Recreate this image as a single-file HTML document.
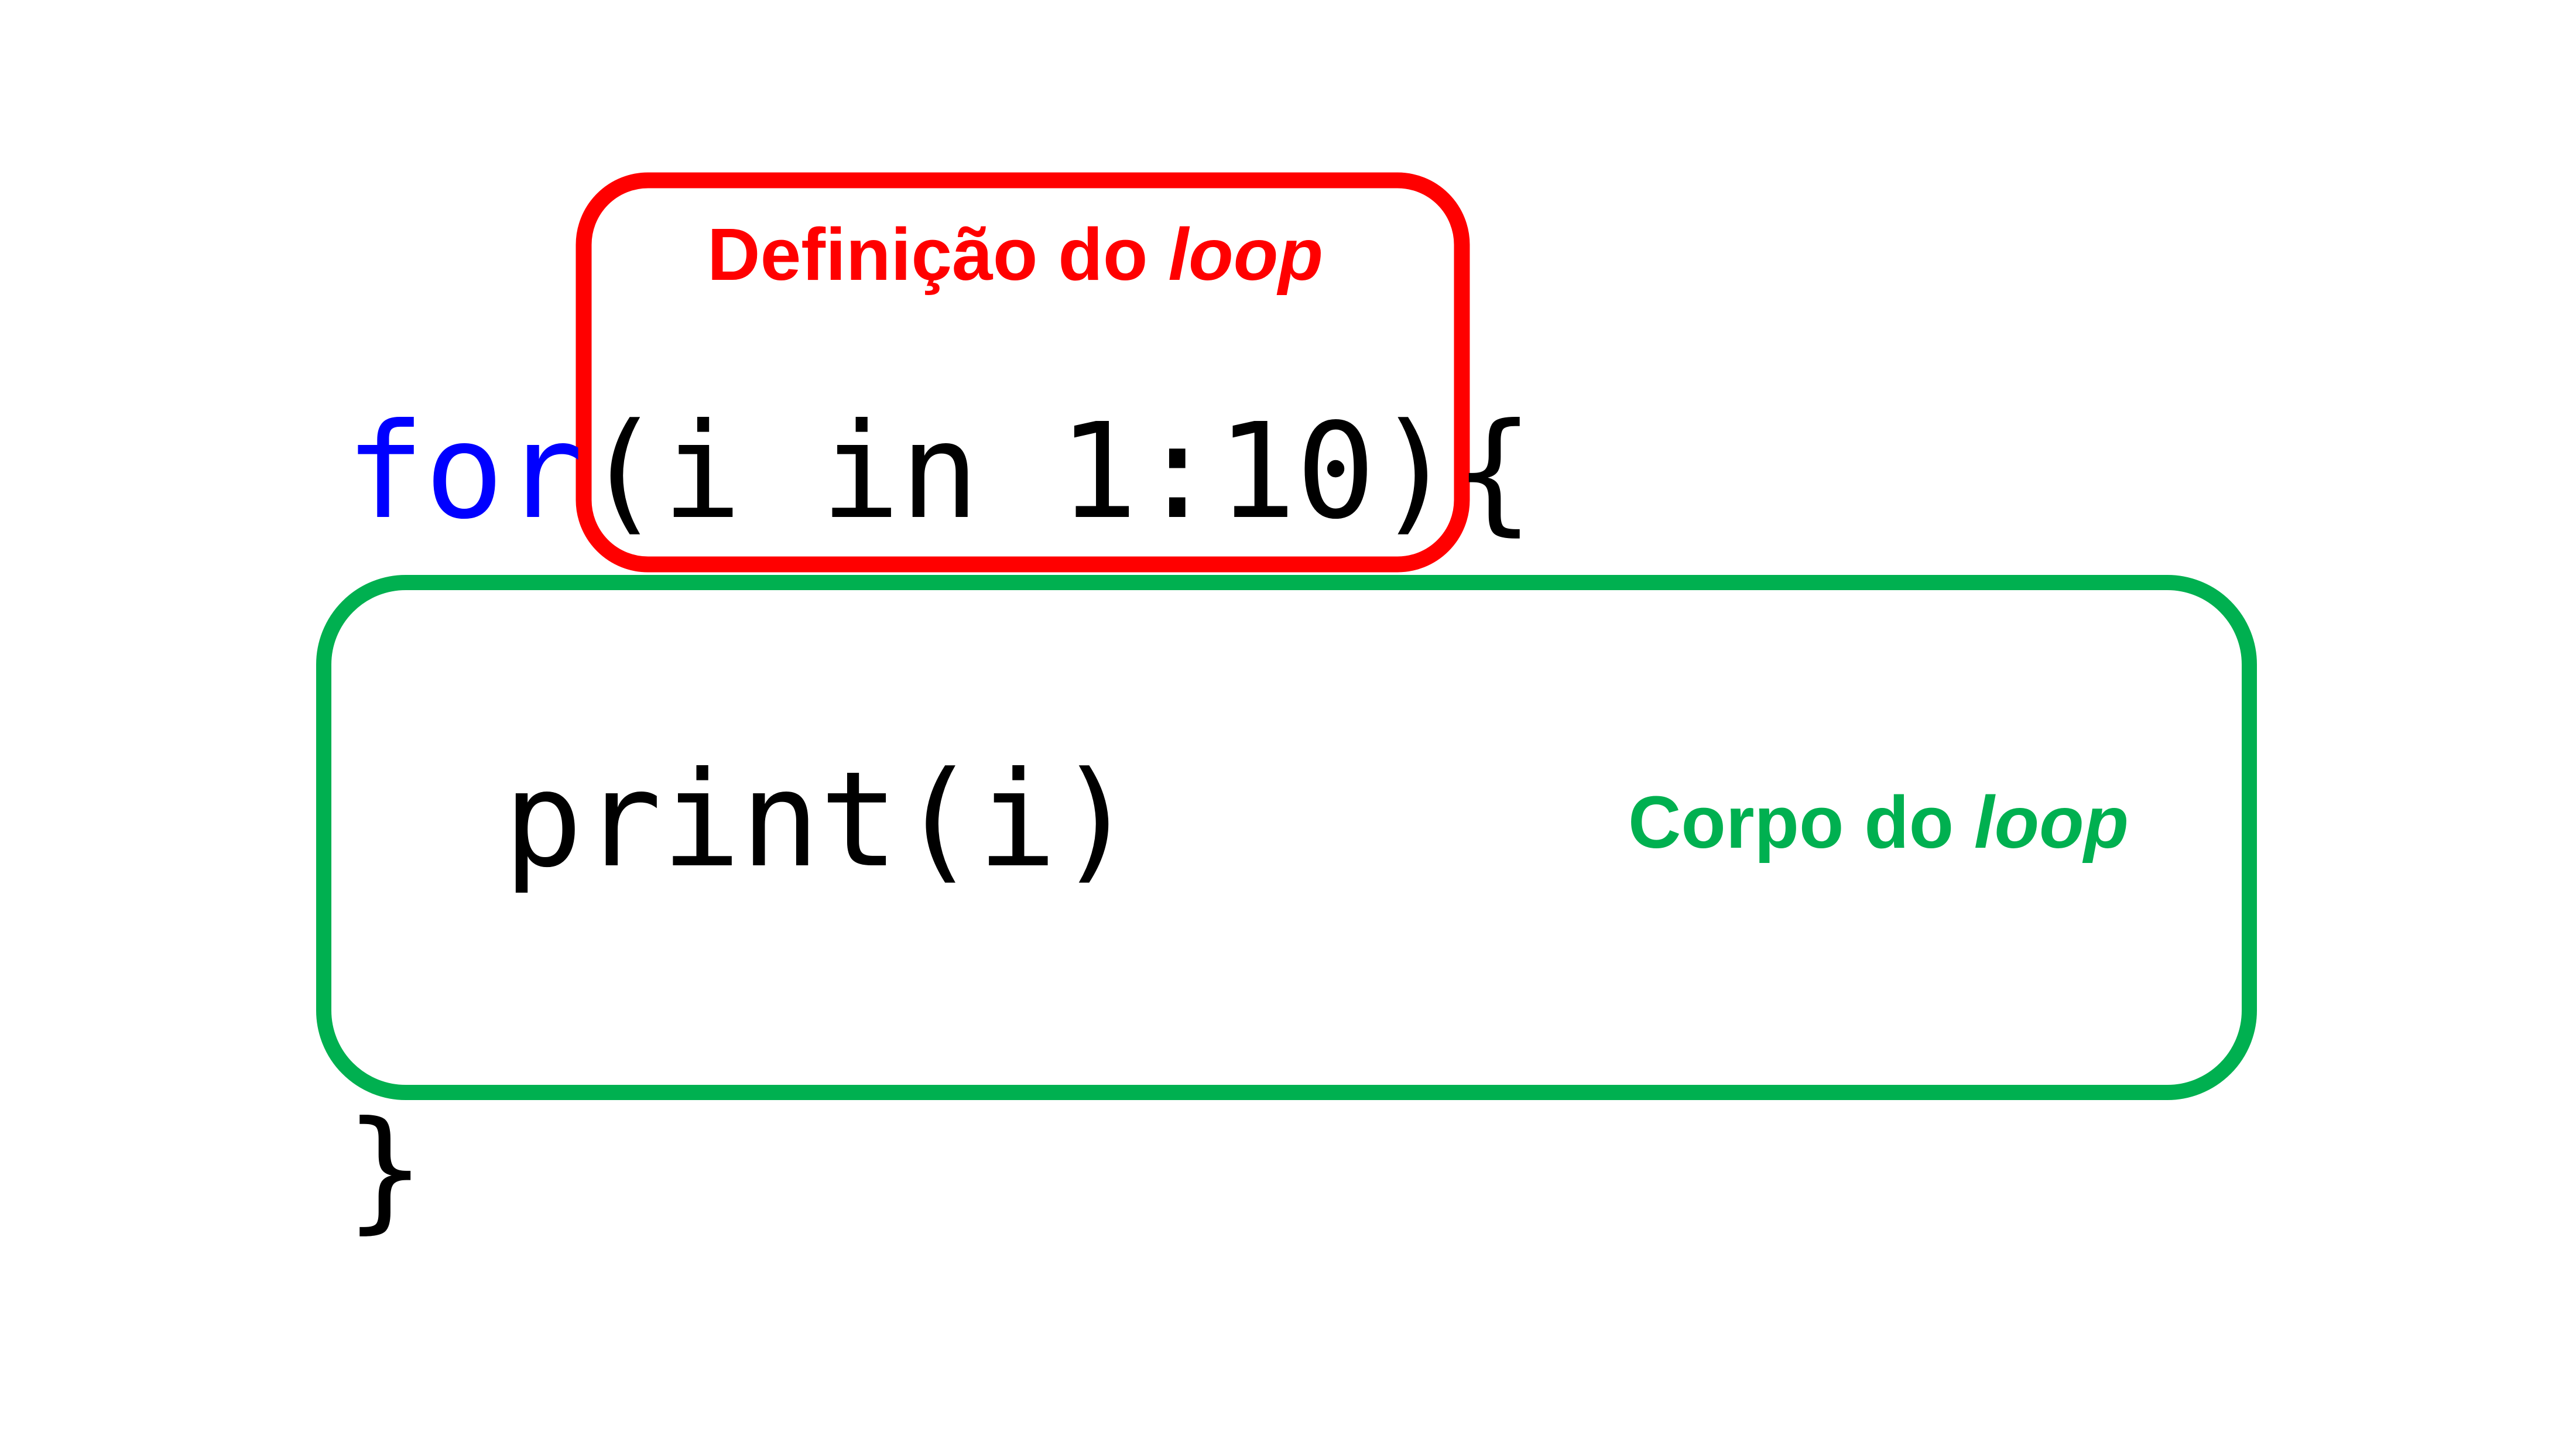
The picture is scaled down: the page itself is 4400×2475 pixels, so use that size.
<!DOCTYPE html>
<html><head><meta charset="utf-8"><style>html,body{margin:0;padding:0;background:#fff}svg{display:block}</style></head>
<body>
<svg width="4400" height="2475" viewBox="0 0 4400 2475" xmlns="http://www.w3.org/2000/svg">
<rect width="4400" height="2475" fill="#fff"/>
<rect x="997" y="308" width="1500" height="656" rx="110" ry="110" fill="none" stroke="#ff0000" stroke-width="27"/>
<rect x="553" y="995" width="3289" height="871" rx="140" ry="140" fill="none" stroke="#00b050" stroke-width="26"/>
<text x="590" y="883" font-family="DejaVu Sans Mono, Liberation Mono, monospace" font-size="225" textLength="2030" lengthAdjust="spacing"><tspan fill="#0000ff">for</tspan><tspan fill="#000">(i in 1:10){</tspan></text>
<text x="860" y="1478" font-family="DejaVu Sans Mono, Liberation Mono, monospace" font-size="225" fill="#000" textLength="1080" lengthAdjust="spacing">print(i)</text>
<text x="590" y="2075" font-family="DejaVu Sans Mono, Liberation Mono, monospace" font-size="225" fill="#000">}</text>
<text x="1208" y="478" font-family="Liberation Sans, sans-serif" font-weight="bold" font-size="126" fill="#ff0000" textLength="1052" lengthAdjust="spacingAndGlyphs">Definição do <tspan font-style="italic">loop</tspan></text>
<text x="2781" y="1448" font-family="Liberation Sans, sans-serif" font-weight="bold" font-size="126" fill="#00b050" textLength="855" lengthAdjust="spacingAndGlyphs">Corpo do <tspan font-style="italic">loop</tspan></text>
</svg>
</body></html>
